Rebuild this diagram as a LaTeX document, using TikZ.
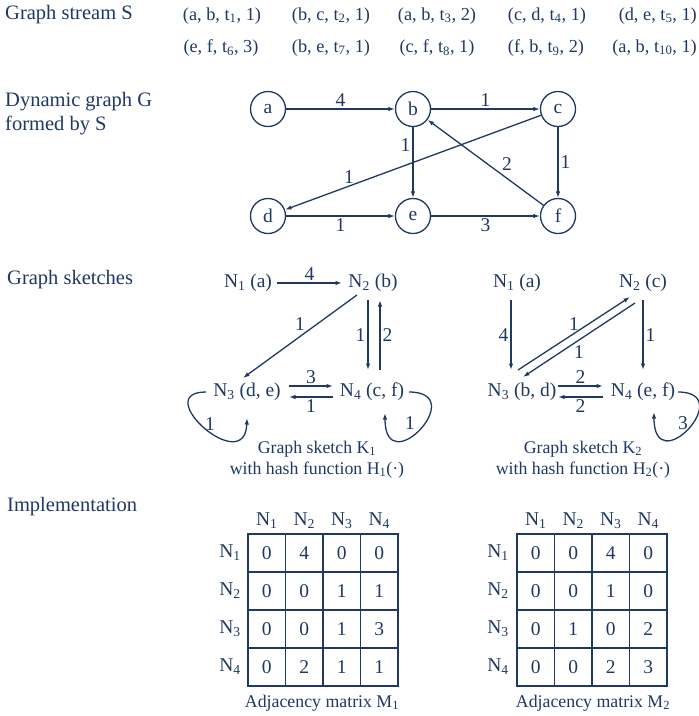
\documentclass[tikz,border=0pt]{standalone}
\usepackage{fontspec}
\setmainfont{Liberation Serif}
\usetikzlibrary{arrows.meta,calc}
\definecolor{navy}{RGB}{31,56,100}
\begin{document}
\begin{tikzpicture}[x=1pt,y=-1pt,
  every node/.style={text=navy},
  lbl/.style={font=\fontsize{20.5}{24}\selectfont, anchor=west, align=left, inner sep=0pt},
  tx/.style={font=\fontsize{19.5}{21}\selectfont},
  captxt/.style={font=\fontsize{17.8}{21}\selectfont, align=center, inner sep=0pt},
  tup/.style={font=\fontsize{18.3}{21}\selectfont, inner sep=0pt},
  vtx/.style={circle, draw=navy, line width=1.3pt, minimum size=35pt, inner sep=0pt, tx},
  sk/.style={tx, inner sep=1pt},
  el/.style={tx, inner sep=2pt},
  arr/.style={draw=navy, line width=1.3pt, -{Latex[length=6.5pt,width=4.5pt]}},
  cell/.style={draw=navy, line width=1.5pt, minimum width=37.5pt, minimum height=38pt, inner sep=0pt, tx},
  hd/.style={tx, inner sep=0pt},
]
\useasboundingbox (0,0) rectangle (699,716);

% left labels
\node[lbl] (l1) at (5,15) {Graph stream S};
\node[lbl] (l2) at (5,114) {Dynamic graph G\\formed by S};
\node[lbl] (l3) at (7,280) {Graph sketches};
\node[lbl] (l4) at (7,507) {Implementation};

% stream tuples
\node[tup] (s1) at (222,16) {(a, b, t\textsubscript{1}, 1)};
\node[tup] (s2) at (331,16) {(b, c, t\textsubscript{2}, 1)};
\node[tup] (s3) at (437,16) {(a, b, t\textsubscript{3}, 2)};
\node[tup] (s4) at (547,16) {(c, d, t\textsubscript{4}, 1)};
\node[tup, anchor=east] (s5) at (697,16) {(d, e, t\textsubscript{5}, 1)};
\node[tup] (s6) at (221,48) {(e, f, t\textsubscript{6}, 3)};
\node[tup] (s7) at (331,48) {(b, e, t\textsubscript{7}, 1)};
\node[tup] (s8) at (437,48) {(c, f, t\textsubscript{8}, 1)};
\node[tup] (s9) at (546,48) {(f, b, t\textsubscript{9}, 2)};
\node[tup, anchor=east] (s10) at (697,48) {(a, b, t\textsubscript{10}, 1)};

% dynamic graph
\node[vtx] (a) at (268,109) {a};
\node[vtx] (b) at (413,109) {b};
\node[vtx] (c) at (558,109) {c};
\node[vtx] (d) at (268,216) {d};
\node[vtx] (e) at (413,216) {e};
\node[vtx] (f) at (558,216) {f};
\draw[arr] (a) -- node[el,above]{4} (b);
\draw[arr] (b) -- node[el,above]{1} (c);
\draw[arr] (b) -- node[el,left,pos=0.25]{1} (e);
\draw[arr] (c) -- node[el,right]{1} (f);
\draw[arr] (f) -- node[el,pos=0.38,above right=0pt]{2} (b);
\draw[arr] (c) -- node[el,pos=0.75,above]{1} (d);
\draw[arr] (d) -- node[el,below]{1} (e);
\draw[arr] (e) -- node[el,below]{3} (f);

% sketch K1
\node[sk] (n1) at (248,283) {N\textsubscript{1} (a)};
\node[sk] (n2) at (373,283) {N\textsubscript{2} (b)};
\node[sk] (n3) at (247,392) {N\textsubscript{3} (d, e)};
\node[sk] (n4) at (372,392) {N\textsubscript{4} (c, f)};
\draw[arr] ($(n1)+(29,0)$) -- node[el,above]{4} ($(n2)+(-31,0)$);
\draw[arr] ($(n2)+(-16,12)$) -- node[el,above=3pt]{1} ($(n3)+(-4,-14)$);
\draw[arr] ($(n2)+(-5,17)$) -- node[el,left]{1} ($(n4)+(-4,-22)$);
\draw[arr] ($(n4)+(8,-22)$) -- node[el,right]{2} ($(n2)+(7,17)$);
\draw[arr] ($(n3)+(42,-6)$) -- node[el,above]{3} ($(n4)+(-39,-6)$);
\draw[arr] ($(n4)+(-39,5)$) -- node[el,below]{1} ($(n3)+(42,5)$);
\draw[arr] ($(n3)+(-41,0)$) .. controls +(-57,0) and +(-2,60) .. ($(n3)+(0,26)$);
\node[el] (k1l3) at ($(n3)+(-37,32)$) {1};
\draw[arr] ($(n4)+(37,0)$) .. controls +(62,0) and +(0,70) .. ($(n4)+(13,21)$);
\node[el] (k1l4) at ($(n4)+(38,31)$) {1};
\node[captxt] (capk1) at (317,459.5) {Graph sketch K\textsubscript{1}\\with hash function H\textsubscript{1}(·)};

% sketch K2
\node[sk] (m1) at (517,283) {N\textsubscript{1} (a)};
\node[sk] (m2) at (643,283) {N\textsubscript{2} (c)};
\node[sk] (m3) at (522,392) {N\textsubscript{3} (b, d)};
\node[sk] (m4) at (643,392) {N\textsubscript{4} (e, f)};
\draw[arr] ($(m1)+(-6,17)$) -- node[el,left]{4} ($(m3)+(-11,-22)$);
\draw[arr] ($(m3)+(-4,-22)$) -- node[el,above]{1} ($(m2)+(-13,14)$);
\draw[arr] ($(m2)+(-8,20)$) -- node[el,below=3pt]{1} ($(m3)+(1,-15)$);
\draw[arr] ($(m2)+(0,17)$) -- node[el,right]{1} ($(m4)+(0,-22)$);
\draw[arr] ($(m3)+(36,-6)$) -- node[el,above]{2} ($(m4)+(-40,-6)$);
\draw[arr] ($(m4)+(-40,5)$) -- node[el,below]{2} ($(m3)+(36,5)$);
\draw[arr] ($(m4)+(35,0)$) .. controls +(60,0) and +(0,70) .. ($(m4)+(11,20)$);
\node[el] (k2l4) at ($(m4)+(40,31)$) {3};
\node[captxt] (capk2) at (583,459.5) {Graph sketch K\textsubscript{2}\\with hash function H\textsubscript{2}(·)};

% matrix M1
\foreach \row [count=\i] in {{0,4,0,0},{0,0,1,1},{0,0,1,3},{0,2,1,1}} {
  \foreach \v [count=\j] in \row {
    \node[cell] (p\i\j) at ({248+37.5*(\j-0.5)},{534+38*(\i-0.5)}) {\v};
  }
}
\foreach \j in {1,...,4} {
  \node[hd] (pc\j) at ({248+37.5*(\j-0.5)},521) {N\textsubscript{\j}};
  \node[hd] (pr\j) at (230,{534+38*(\j-0.5)}) {N\textsubscript{\j}};
}
\node[captxt] (capm1) at (322,703) {Adjacency matrix M\textsubscript{1}};

% matrix M2
\foreach \row [count=\i] in {{0,0,4,0},{0,0,1,0},{0,1,0,2},{0,0,2,3}} {
  \foreach \v [count=\j] in \row {
    \node[cell] (q\i\j) at ({517+37.5*(\j-0.5)},{534+38*(\i-0.5)}) {\v};
  }
}
\foreach \j in {1,...,4} {
  \node[hd] (qc\j) at ({517+37.5*(\j-0.5)},521) {N\textsubscript{\j}};
  \node[hd] (qr\j) at (498,{534+38*(\j-0.5)}) {N\textsubscript{\j}};
}
\node[captxt] (capm2) at (593,703) {Adjacency matrix M\textsubscript{2}};
\end{tikzpicture}
\end{document}
